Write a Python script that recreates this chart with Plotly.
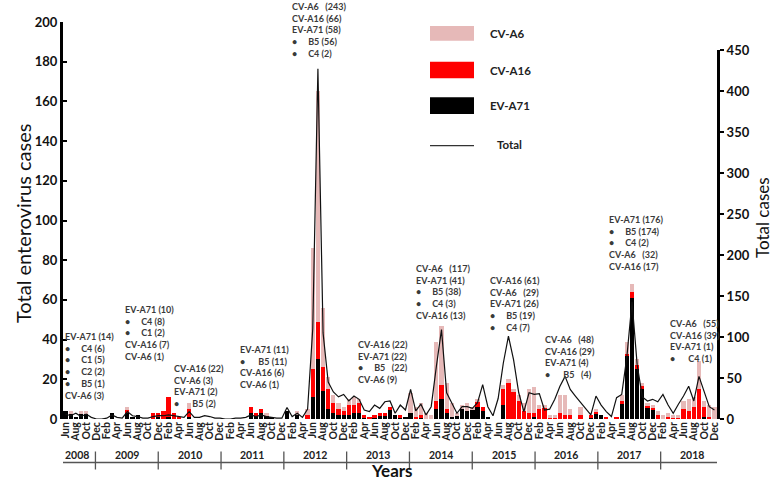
import plotly.graph_objects as go

# ---------------- data (monthly, Jun 2008 .. Dec 2018) ----------------
MONTH_ABBR = ['Jan', 'Feb', 'Mar', 'Apr', 'May', 'Jun', 'Jul', 'Aug', 'Sep', 'Oct', 'Nov', 'Dec']
YEARS = [2008, 2009, 2010, 2011, 2012, 2013, 2014, 2015, 2016, 2017, 2018]
FIRST_MONTH = 6  # June 2008

EV_A71 = [4, 3, 1, 3, 3, 0, 0,                      # 2008
          0, 0, 3, 0, 0, 3, 1, 2, 0, 0, 0, 1,       # 2009
          0, 1, 0, 0, 0, 1, 0, 0, 0, 0, 0, 0,       # 2010
          0, 0, 0, 0, 0, 3, 2, 3, 2, 1, 0, 0,       # 2011
          4, 0, 2, 0, 0, 11, 30, 14, 5, 3, 2, 2,    # 2012
          2, 3, 3, 1, 0, 1, 2, 2, 5, 2, 1, 1,       # 2013
          3, 0, 1, 0, 0, 5, 10, 3, 1, 2, 5, 4,      # 2014
          5, 6, 4, 1, 0, 0, 7, 0, 0, 0, 0, 0,       # 2015
          1, 0, 0, 0, 0, 0, 0, 0, 0, 0, 0, 1,       # 2016
          3, 2, 0, 0, 0, 8, 32, 61, 25, 15, 6, 5,   # 2017
          0, 0, 0, 0, 0, 0, 0, 0, 0, 1, 0, 0]       # 2018

CV_A16 = [0, 0, 0, 0, 0, 0, 0,
          0, 0, 0, 0, 0, 2, 0, 0, 0, 0, 3, 2,
          4, 10, 3, 1, 0, 4, 0, 0, 0, 0, 0, 0,
          0, 0, 0, 0, 0, 3, 1, 2, 0, 0, 0, 0,
          0, 0, 0, 0, 2, 14, 19, 12, 10, 5, 3, 2,
          5, 4, 5, 1, 1, 1, 1, 1, 1, 0, 1, 0,
          0, 1, 1, 0, 0, 4, 7, 2, 0, 0, 0, 0,
          0, 3, 2, 0, 0, 0, 8, 18, 14, 9, 4, 3,
          2, 5, 6, 1, 1, 3, 2, 2, 0, 2, 0, 1,
          1, 0, 1, 0, 1, 1, 1, 3, 2, 2, 1, 1,
          2, 0, 1, 1, 1, 5, 4, 6, 15, 5, 1, 0]

CV_A6 = [0, 1, 0, 1, 1, 0, 0,
         0, 0, 0, 0, 0, 1, 0, 0, 0, 0, 0, 0,
         0, 0, 0, 0, 0, 3, 0, 0, 0, 0, 0, 0,
         0, 0, 0, 0, 0, 0, 0, 0, 1, 0, 0, 0,
         0, 0, 2, 0, 3, 61, 116, 30, 6, 4, 3, 2,
         3, 4, 2, 0, 0, 0, 0, 0, 0, 0, 0, 0,
         10, 5, 6, 3, 2, 30, 30, 13, 7, 1, 2, 4,
         1, 1, 0, 0, 0, 0, 2, 2, 1, 3, 4, 12,
         13, 2, 1, 1, 1, 9, 10, 3, 0, 4, 0, 0,
         1, 0, 0, 0, 0, 3, 6, 4, 3, 1, 1, 1,
         2, 2, 2, 1, 1, 4, 6, 5, 14, 3, 6, 6]

TOTAL = [6, 4, 7, 3, 6, 2, 0,
         0, 1, 5, 2, 1, 9, 4, 3, 1, 1, 3, 4,
         4, 5, 4, 3, 2, 9, 2, 2, 4, 3, 1, 1,
         0, 0, 1, 1, 2, 5, 3, 5, 3, 2, 1, 1,
         14, 3, 7, 2, 12, 110, 427, 105, 45, 33, 27, 30,
         22, 28, 24, 11, 9, 17, 13, 21, 22, 7, 17, 11,
         36, 10, 18, 5, 15, 64, 109, 32, 20, 7, 15, 15,
         13, 20, 42, 15, 4, 25, 68, 101, 72, 32, 9, 32,
         30, 31, 11, 12, 24, 40, 52, 36, 28, 20, 13, 5,
         28, 17, 9, 3, 26, 30, 76, 143, 66, 27, 22, 24,
         21, 30, 17, 7, 18, 28, 40, 22, 52, 32, 15, 11]

# yearly genotype summaries: (anchor month index, anchor value on left axis, lines)
BUL = "\u2022" + "\u00a0" * 5
NOTES = [
    (-0.45, 45.3, ["EV-A71 (14)", BUL + "C4 (6)", BUL + "C1 (5)", BUL + "C2 (2)", BUL + "B5 (1)", "CV-A6 (3)"]),
    (11.2, 58.8, ["EV-A71 (10)", BUL + "C4 (8)", BUL + "C1 (2)", "CV-A16 (7)", "CV-A6 (1)"]),
    (20.7, 29.3, ["CV-A16 (22)", "CV-A6 (3)", "EV-A71 (2)", BUL + "\u00a0B5 (2)"]),
    (33.5, 38.6, ["EV-A71 (11)", BUL + "\u00a0B5 (11)", "CV-A16 (6)", "CV-A6 (1)"]),
    (43.5, 211.5, ["CV-A6\u00a0\u00a0\u00a0(243)", "CV-A16 (66)", "EV-A71 (58)", BUL + "B5 (56)", BUL + "C4 (2)"]),
    (56.3, 41.1, ["CV-A16 (22)", "EV-A71 (22)", BUL + "B5\u00a0\u00a0\u00a0(22)", "CV-A6 (9)"]),
    (67.6, 79.4, ["CV-A6\u00a0\u00a0\u00a0(117)", "EV-A71 (41)", BUL + "B5 (38)", BUL + "C4 (3)", "CV-A16 (13)"]),
    (82.0, 73.5, ["CV-A16 (61)", "CV-A6\u00a0\u00a0\u00a0(29)", "EV-A71 (26)", BUL + "B5 (19)", BUL + "C4 (7)"]),
    (92.7, 43.6, ["CV-A6\u00a0\u00a0\u00a0(48)", "CV-A16 (29)", "EV-A71 (4)", BUL + "\u00a0B5\u00a0\u00a0\u00a0(4)"]),
    (105.1, 104.1, ["EV-A71 (176)", BUL + "B5 (174)", BUL + "C4 (2)", "CV-A6\u00a0\u00a0\u00a0(32)", "CV-A16 (17)"]),
    (117.0, 52.0, ["CV-A6\u00a0\u00a0\u00a0(55)", "CV-A16 (39)", "EV-A71 (1)", BUL + "\u00a0C4 (1)"]),
]
LEFT_MAX = 200
RIGHT_MAX = 450

# ---------------- derived axis helpers ----------------
n = len(TOTAL)
idx = list(range(n))
month_names = [MONTH_ABBR[(FIRST_MONTH - 1 + i) % 12] for i in idx]
year_of = [YEARS[0] + (FIRST_MONTH - 1 + i) // 12 for i in idx]

FONT = "Lato"
PINK, RED, BLACK = "#E6B9B8", "#FF0000", "#000000"

fig = go.Figure()
fig.add_trace(go.Bar(x=idx, y=EV_A71, name="EV-A71", marker=dict(color=BLACK, line=dict(width=0))))
fig.add_trace(go.Bar(x=idx, y=CV_A16, name="CV-A16", marker=dict(color=RED, line=dict(width=0))))
fig.add_trace(go.Bar(x=idx, y=CV_A6, name="CV-A6", marker=dict(color=PINK, line=dict(width=0))))
fig.add_trace(go.Scatter(x=idx, y=TOTAL, name="Total", mode="lines", yaxis="y2",
                         line=dict(color="#111111", width=1.2)))

# plot area geometry (pixels)
L, R, T, B = 63, 61, 22, 64
W, H = 778, 483
ph = H - T - B
pw = W - L - R
def py(px_y):
    return (H - B - px_y) / ph
def px(px_x):
    return (px_x - L) / pw

annotations = []
for x0, y0, lines in NOTES:
    annotations.append(dict(x=x0, y=y0 / LEFT_MAX, xref="x", yref="paper", xanchor="left", yanchor="top",
                            align="left", showarrow=False, text="<br>".join(lines),
                            font=dict(family=FONT, size=9, color="#3a3a3a", weight="bold")))

# year row under month labels (slightly stretched, as in the reference)
stretch = 1.0163
off = -1.315
bounds = [0]
for i in range(1, n):
    if year_of[i] != year_of[i - 1]:
        bounds.append(i)
bounds.append(n)
shapes = []
ytxt = py(454.5)
for k in range(len(bounds)):
    xb = off + stretch * bounds[k]
    shapes.append(dict(type="line", xref="x", yref="paper", x0=xb, x1=xb, y0=py(451.5), y1=py(469.5),
                       line=dict(color="#555555", width=1.3)))
    if k < len(bounds) - 1:
        xm = off + stretch * (bounds[k] + bounds[k + 1]) / 2
        annotations.append(dict(x=xm, y=ytxt, xref="x", yref="paper", text=str(year_of[bounds[k]]),
                                showarrow=False, xanchor="center", yanchor="middle",
                                font=dict(family=FONT, size=10.5, color="#222222", weight="bold")))
shapes.append(dict(type="line", xref="x", yref="paper", x0=off, x1=off + stretch * n,
                   y0=py(462.5), y1=py(462.5), line=dict(color="#555555", width=1.3)))

# manual legend (large swatches as in the reference)
leg = [("CV-A6", PINK, 26, 40.7), ("CV-A16", RED, 61.7, 78.3), ("EV-A71", BLACK, 97.3, 114)]
for name, col, ya, yb in leg:
    shapes.append(dict(type="rect", xref="paper", yref="paper", x0=px(430), x1=px(474),
                       y0=py(yb), y1=py(ya), fillcolor=col, line=dict(width=0)))
    annotations.append(dict(x=px(488), y=py((ya + yb) / 2), xref="paper", yref="paper", text=name,
                            showarrow=False, xanchor="left", yanchor="middle",
                            font=dict(family=FONT, size=11.5, color="#222222", weight="bold")))
shapes.append(dict(type="line", xref="paper", yref="paper", x0=px(430), x1=px(474),
                   y0=py(145.7), y1=py(145.7), line=dict(color="#333333", width=1.3)))
annotations.append(dict(x=px(495), y=py(144.3), xref="paper", yref="paper", text="Total",
                        showarrow=False, xanchor="left", yanchor="middle",
                        font=dict(family=FONT, size=11.5, color="#222222", weight="bold")))

# axis titles
annotations.append(dict(x=px(23), y=py(224), xref="paper", yref="paper", text="Total enterovirus cases",
                        textangle=-90, showarrow=False, xanchor="center", yanchor="middle",
                        font=dict(family=FONT, size=20, color="#111111")))
annotations.append(dict(x=px(762), y=py(218), xref="paper", yref="paper", text="Total cases",
                        textangle=-90, showarrow=False, xanchor="center", yanchor="middle",
                        font=dict(family=FONT, size=17, color="#111111")))
annotations.append(dict(x=px(392), y=py(483), xref="paper", yref="paper", text="Years",
                        showarrow=False, xanchor="center", yanchor="bottom",
                        font=dict(family=FONT, size=17, color="#111111", weight="bold")))

even = [i for i in idx if i % 2 == 0]
fig.update_layout(
    width=W, height=H,
    margin=dict(l=L, r=R, t=T, b=B, autoexpand=False),
    paper_bgcolor="white", plot_bgcolor="rgba(0,0,0,0)",
    barmode="stack", bargap=0.18,
    showlegend=False,
    font=dict(family=FONT, color="#111111"),
    xaxis=dict(range=[-0.5, n - 0.5], tickmode="array", tickvals=even, automargin=False,
               ticktext=[month_names[i] for i in even], tickangle=-90,
               tickfont=dict(family=FONT, size=10.5, color="#222222", weight="bold"),
               showline=False, ticks="", showgrid=False, zeroline=False),
    yaxis=dict(range=[0, LEFT_MAX], tickmode="array", tickvals=list(range(0, LEFT_MAX + 1, 20)),
               automargin=False,
               showline=True, linewidth=3, linecolor="black", ticks="inside", ticklen=4,
               tickwidth=2, tickcolor="black", showgrid=False, zeroline=False,
               tickfont=dict(family=FONT, size=13, color="#111111", weight="bold")),
    yaxis2=dict(range=[0, RIGHT_MAX], tickmode="array", tickvals=list(range(0, RIGHT_MAX + 1, 50)),
                anchor="x", side="right", domain=[0, py(50)], automargin=False,
                showline=True, linewidth=3, linecolor="black", ticks="outside", ticklen=4,
                tickwidth=2, tickcolor="black", showgrid=False, zeroline=False,
                tickfont=dict(family=FONT, size=13, color="#111111", weight="bold")),
    shapes=shapes,
    annotations=annotations,
)

fig.write_html("out.html", config={"displayModeBar": False},
               post_script="document.body.style.margin='0';document.body.style.overflow='hidden';")
